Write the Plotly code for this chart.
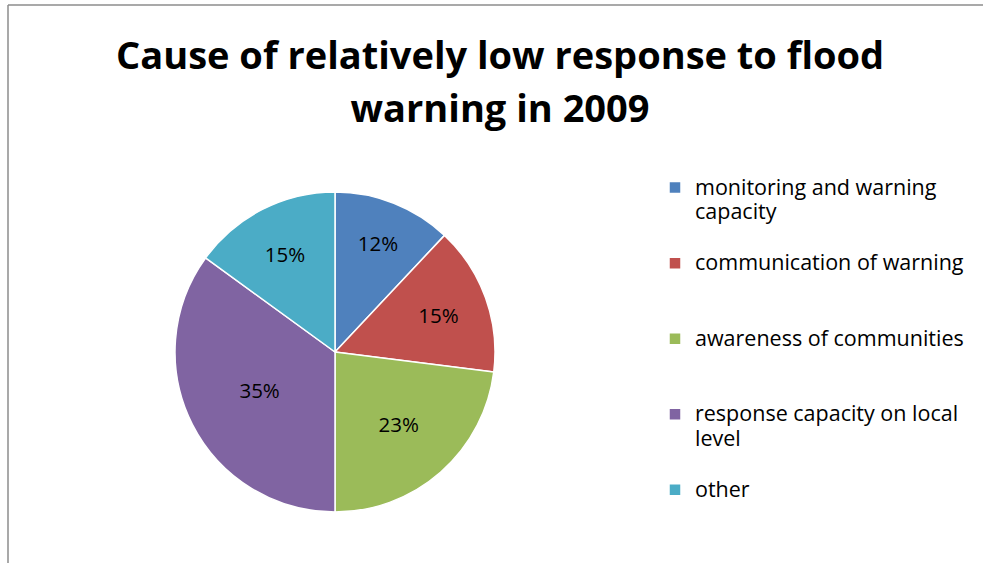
import plotly.graph_objects as go

categories = ["monitoring and warning<br>capacity", "communication of warning",
              "awareness of communities", "response capacity on local<br>level", "other"]
values = [12, 15, 23, 35, 15]
colors = ["#4F81BD", "#C0504D", "#9BBB59", "#8064A2", "#4BACC6"]
title_lines = ["Cause of relatively low response to flood", "warning in 2009"]

W, H = 983, 563
FONT = "Open Sans"
LEG_PX = 21.5
TITLE_PX = 38


def sized(text, px):
    return "<br>".join("<span style='font-size:%spx'>%s</span>" % (px, t) for t in text.split("<br>"))


def legend_text(c):
    n = c.count("<br>") + 1
    return sized(c, LEG_PX) + "<br> " * (3 - n)


legend_labels = [legend_text(c) for c in categories]

fig = go.Figure(go.Pie(
    labels=legend_labels,
    values=values,
    sort=False,
    direction="clockwise",
    rotation=0,
    marker=dict(colors=colors, line=dict(color="white", width=1.5)),
    texttemplate="%{percent:.0%}",
    textposition="inside",
    insidetextorientation="horizontal",
    textfont=dict(family=FONT, size=20.5, color="black"),
    domain=dict(x=[175 / W, 495 / W], y=[1 - 512 / H, 1 - 192 / H]),
    hoverinfo="label+percent",
))

fig.update_layout(
    width=W, height=H,
    margin=dict(l=0, r=0, t=0, b=0, autoexpand=False),
    paper_bgcolor="white",
    font=dict(family=FONT, color="black"),
    legend=dict(x=655 / W, xanchor="left", y=1 - 169 / H, yanchor="top",
                font=dict(family=FONT, size=18.6, color="black"),
                valign="top", itemwidth=30, tracegroupgap=0, bgcolor="rgba(0,0,0,0)"),
    annotations=[dict(text="<b>" + sized("<br>".join(title_lines), TITLE_PX) + "</b>",
                      xref="paper", yref="paper", x=500 / W, y=1 - 80 / H,
                      xanchor="center", yanchor="middle", showarrow=False,
                      font=dict(family=FONT, size=40.5, color="black"))],
    shapes=[
        dict(type="line", xref="paper", yref="paper", x0=8 / W, x1=1, y0=1 - 5 / H, y1=1 - 5 / H,
             line=dict(color="#8c8c8c", width=1.5)),
        dict(type="line", xref="paper", yref="paper", x0=8 / W, x1=8 / W, y0=0, y1=1 - 5 / H,
             line=dict(color="#8c8c8c", width=1.5)),
    ],
)

fig.write_html("out.html")
